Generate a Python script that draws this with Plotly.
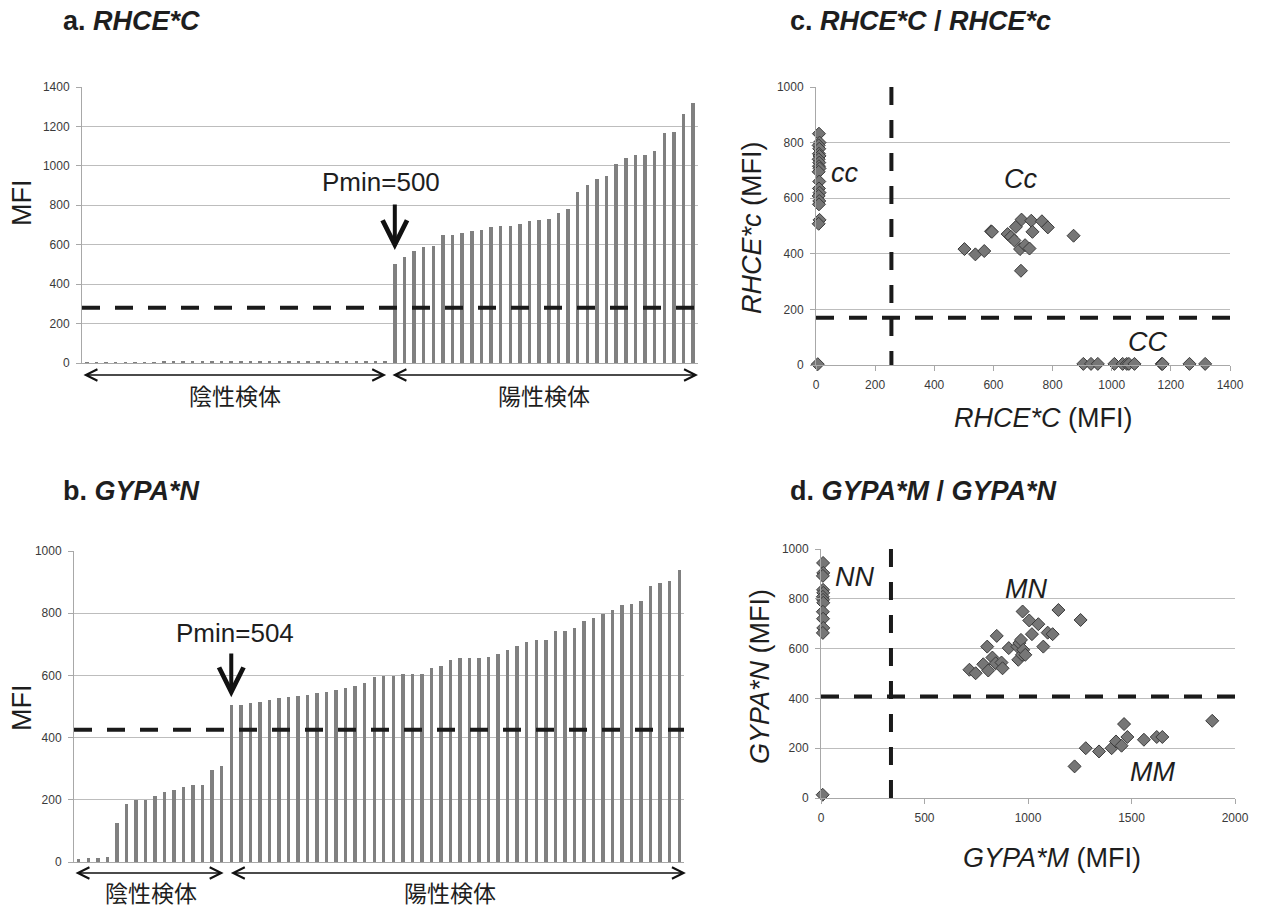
import plotly.graph_objects as go

# ---------------- data ----------------
# panel a: RHCE*C MFI, sorted (negative then positive samples)
a_neg = [5, 5, 5, 5, 5, 5, 5, 5, 6, 6, 6, 6, 6, 6, 6, 6,
         6, 6, 7, 7, 7, 7, 7, 7, 7, 8, 8, 8, 8, 9, 9, 11]
a_pos = [500, 536, 568, 588, 593, 651, 651, 658, 668, 675, 690, 693, 695, 705, 720, 725,
         731, 761, 781, 869, 905, 931, 951, 1008, 1039, 1053, 1056, 1076, 1169, 1171, 1264, 1317]
a_cut = 280
a_pmin = 500

# panel b: GYPA*N MFI
b_neg = [10, 13, 14, 16, 125, 185, 199, 200, 211, 226, 233, 242, 246, 246, 296, 309]
b_pos = [504, 504, 512, 514, 520, 526, 529, 535, 537, 543, 546, 552, 559, 567, 575, 595,
         598, 599, 604, 606, 606, 624, 629, 650, 656, 657, 657, 659, 668, 681, 696, 707,
         713, 715, 743, 743, 752, 775, 784, 798, 811, 825, 828, 839, 887, 896, 902, 938]
b_cut = 425
b_pmin = 504

# panel c: RHCE*C (x) vs RHCE*c (y)
cc_x = [10, 12, 9, 11, 10, 12, 9, 11, 10, 12, 9, 11, 10, 12, 9, 11, 10, 12, 9]
cc_y = [832, 800, 790, 778, 760, 752, 740, 728, 715, 707, 695, 660, 635, 620, 608, 590, 578, 522, 508]
Cc_x = [502, 539, 569, 592, 595, 648, 659, 671, 676, 690, 693, 695, 707, 722, 728, 732, 764, 784, 871]
Cc_y = [417, 398, 410, 481, 479, 471, 461, 448, 497, 417, 339, 523, 431, 419, 519, 479, 517, 495, 465]
CC_x = [904, 930, 953, 1009, 1037, 1051, 1058, 1077, 1169, 1172, 1263, 1316]
CC_y = [4, 4, 4, 4, 4, 4, 4, 4, 4, 4, 4, 4]
c0_x = [6]
c0_y = [3]
c_cut_x = 255
c_cut_y = 170

# panel d: GYPA*M (x) vs GYPA*N (y)
NN_x = [10, 11, 9, 10, 11, 9, 10, 11, 9, 10, 11, 9]
NN_y = [944, 904, 892, 836, 824, 808, 796, 784, 748, 720, 683, 663]
MN_x = [717, 747, 784, 803, 808, 828, 849, 844, 872, 877, 907, 949, 953, 958, 966, 971,
        974, 977, 987, 1006, 1019, 1050, 1074, 1095, 1119, 1147, 1254]
MN_y = [515, 501, 537, 608, 512, 564, 651, 541, 544, 521, 602, 608, 555, 622, 635, 575,
        749, 595, 575, 713, 658, 698, 608, 664, 658, 755, 715]
MM_x = [1225, 1279, 1343, 1404, 1425, 1452, 1464, 1480, 1560, 1622, 1649, 1890]
MM_y = [127, 200, 187, 200, 227, 210, 297, 245, 234, 245, 245, 310]
d0_x = [8]
d0_y = [13]
d_cut_x = 338
d_cut_y = 408

neg_label = "陰性検体"
pos_label = "陽性検体"

# ---------------- layout helpers ----------------
W, H = 1263, 908
def px(x):
    return x / W
def py(y):
    return 1 - y / H

FONT = "Liberation Sans"
JP = "Noto Sans CJK JP"
TXT = "#1e1e1e"
TICK = "#3a3a3a"
GRID = "#bdbdbd"
AXL = "#a8a8a8"
BAR = "#808080"
DASH = "#1a1a1a"

fig = go.Figure()

a_vals = a_neg + a_pos
b_vals = b_neg + b_pos
fig.add_trace(go.Bar(x=list(range(len(a_vals))), y=a_vals, width=0.36,
                     marker=dict(color=BAR, line=dict(width=0)), xaxis="x", yaxis="y",
                     hoverinfo="skip"))
fig.add_trace(go.Bar(x=list(range(len(b_vals))), y=b_vals, width=0.36,
                     marker=dict(color=BAR, line=dict(width=0)), xaxis="x2", yaxis="y2",
                     hoverinfo="skip"))

mk = dict(symbol="diamond", size=10, color="#767676", line=dict(color="#3a3a3a", width=1))
for xs, ys in [(cc_x, cc_y), (Cc_x, Cc_y), (CC_x, CC_y), (c0_x, c0_y)]:
    fig.add_trace(go.Scatter(x=xs, y=ys, mode="markers", marker=mk, xaxis="x3", yaxis="y3",
                             cliponaxis=False))
for xs, ys in [(NN_x, NN_y), (MN_x, MN_y), (MM_x, MM_y), (d0_x, d0_y)]:
    fig.add_trace(go.Scatter(x=xs, y=ys, mode="markers", marker=mk, xaxis="x4", yaxis="y4",
                             cliponaxis=False))

tickfont = dict(family=FONT, size=12, color=TICK)

def bar_x(dom):
    return dict(domain=dom, range=[-0.5, 63.5], showgrid=False, showticklabels=False,
                showline=True, linecolor=AXL, linewidth=1, zeroline=False, ticks="",
                fixedrange=True, automargin=False)

def yax(dom, rng, dt, anchor):
    return dict(domain=dom, range=rng, dtick=dt, showgrid=True, gridcolor=GRID, gridwidth=1,
                showline=True, linecolor=AXL, linewidth=1, zeroline=False,
                ticks="outside", ticklen=5, tickcolor=AXL, tickfont=tickfont,
                ticklabelstandoff=4, anchor=anchor, automargin=False)

def sc_x(dom, rng, dt, anchor):
    return dict(domain=dom, range=rng, dtick=dt, showgrid=False, showline=True,
                linecolor=AXL, linewidth=1, zeroline=False, ticks="outside", ticklen=5,
                tickcolor=AXL, tickfont=tickfont, ticklabelstandoff=4, anchor=anchor,
                automargin=False)

fig.update_layout(
    width=W, height=H, margin=dict(l=0, r=0, t=0, b=0, pad=0, autoexpand=False),
    paper_bgcolor="white", plot_bgcolor="white", showlegend=False, bargap=0,
    xaxis=bar_x([px(82), px(698)]) | dict(anchor="y"),
    yaxis=yax([py(363), py(87)], [0, 1400], 200, "x"),
    xaxis2=bar_x([px(74), px(684)]) | dict(anchor="y2"),
    yaxis2=yax([py(862), py(551)], [0, 1000], 200, "x2"),
    xaxis3=sc_x([px(816), px(1230)], [0, 1400], 200, "y3"),
    yaxis3=yax([py(365), py(87)], [0, 1000], 200, "x3"),
    xaxis4=sc_x([px(821), px(1235)], [0, 2000], 500, "y4"),
    yaxis4=yax([py(798), py(549)], [0, 1000], 200, "x4"),
)

shapes = []
def dline(xr, yr, x0, y0, x1, y1):
    shapes.append(dict(type="line", xref=xr, yref=yr, x0=x0, y0=y0, x1=x1, y1=y1,
                       line=dict(color=DASH, width=4, dash="18px,15px"), layer="above"))
dline("x", "y", -0.5, a_cut, 63.5, a_cut)
dline("x2", "y2", -0.5, b_cut, 63.5, b_cut)
dline("x3", "y3", 0, c_cut_y, 1400, c_cut_y)
dline("x3", "y3", c_cut_x, 1000, c_cut_x, 0)
dline("x4", "y4", 0, d_cut_y, 2000, d_cut_y)
dline("x4", "y4", d_cut_x, 1000, d_cut_x, 0)
fig.update_layout(shapes=shapes)

ann = []
def text(x, y, s, size, xanchor="center", angle=0, family=FONT, color=TXT, xref="paper", yref="paper"):
    ann.append(dict(x=x, y=y, xref=xref, yref=yref, text=s, showarrow=False,
                    xanchor=xanchor, yanchor="middle", textangle=angle,
                    font=dict(family=family, size=size, color=color)))

# panel titles
text(px(61), py(21), "<b>a. <i>RHCE*C</i></b>", 27, "left")
text(px(61), py(491), "<b>b. <i>GYPA*N</i></b>", 27, "left")
text(px(788), py(21), "<b>c. <i>RHCE*C</i> / <i>RHCE*c</i></b>", 27, "left")
text(px(788), py(491), "<b>d. <i>GYPA*M</i> / <i>GYPA*N</i></b>", 27, "left")

# axis titles
text(px(22), py(203), "MFI", 27, angle=-90)
text(px(22), py(708), "MFI", 27, angle=-90)
text(px(752), py(227), "<i>RHCE*c</i> (MFI)", 27, angle=-90)
text(px(1043), py(418), "<i>RHCE*C</i> (MFI)", 27)
text(px(760), py(677), "<i>GYPA*N</i> (MFI)", 27, angle=-90)
text(px(1052), py(858), "<i>GYPA*M</i> (MFI)", 27)

# genotype labels
text(px(845), py(173), "<i>cc</i>", 27)
text(px(1021), py(179), "<i>Cc</i>", 27)
text(px(1147), py(342), "<i>CC</i>", 27)
text(px(854), py(577), "<i>NN</i>", 27)
text(px(1026), py(589), "<i>MN</i>", 27)
text(px(1152), py(772), "<i>MM</i>", 27)

# Pmin labels and arrows
ia = len(a_neg)
ib = len(b_neg)
text(ia - 1.4, 918, f"Pmin={a_pmin}", 26, xref="x", yref="y")
text(ib + 0.4, 736, f"Pmin={b_pmin}", 26, xref="x2", yref="y2")
def varrow(xr, yr, x, ytip, ytail):
    ann.append(dict(x=x, y=ytip, ax=x, ay=ytail, xref=xr, yref=yr, axref=xr, ayref=yr,
                    text="", showarrow=True, arrowhead=5, arrowsize=1.2, arrowwidth=4,
                    arrowcolor="#111111", standoff=0, startstandoff=0))
varrow("x", "y", ia, 573, 812)
varrow("x2", "y2", ib, 530, 675)

# double headed arrows under bar panels
def harrow(xr, ypaper, x0, x1):
    ann.append(dict(x=x1, y=ypaper, ax=x0, ay=0, xref=xr, yref="paper", axref=xr, ayref="pixel",
                    text="", showarrow=True, arrowhead=5, startarrowhead=5, arrowside="end+start",
                    arrowsize=1.5, startarrowsize=1.5, arrowwidth=1.5, arrowcolor="#111111",
                    standoff=0, startstandoff=0))
harrow("x", py(375), -0.5, ia - 0.9)
harrow("x", py(375), ia - 0.4, 63.5)
harrow("x2", py(873), -0.5, ib - 0.8)
harrow("x2", py(873), ib - 0.2, 63.7)

text((len(a_neg) - 1) / 2 - 0.1, py(395), neg_label, 23, family=JP, xref="x")
text(ia + (len(a_pos) - 1) / 2, py(395), pos_label, 23, family=JP, xref="x")
text((len(b_neg) - 1) / 2 + 0.1, py(892), neg_label, 23, family=JP, xref="x2")
text(ib + (len(b_pos) - 1) / 2 - 0.5, py(892), pos_label, 23, family=JP, xref="x2")

fig.update_layout(annotations=ann)
fig.write_html("out.html", config={"displayModeBar": False},
               post_script="document.body.style.margin='0px';document.body.style.overflow='hidden';")
